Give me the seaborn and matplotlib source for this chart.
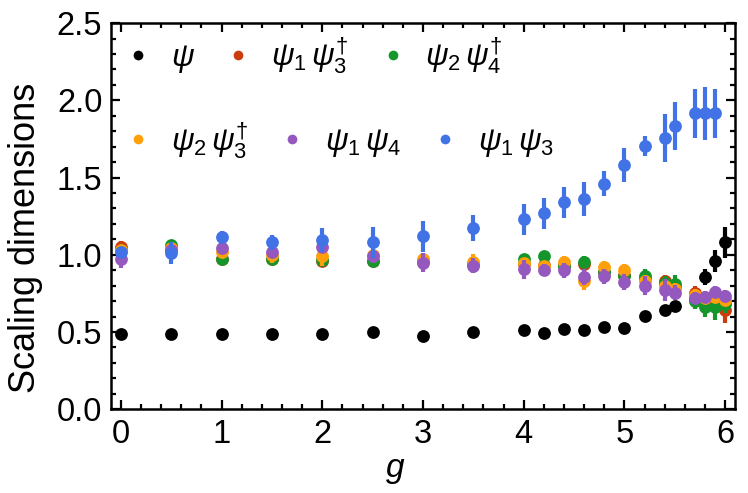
"""
Scaling dimensions of the fermion operators as a function of the coupling g.
Dots are the estimates and vertical bars the uncertainties.
"""

import matplotlib
matplotlib.use("Agg")
import matplotlib.pyplot as plt
from matplotlib.lines import Line2D
from matplotlib.ticker import MultipleLocator
import pandas as pd
import seaborn as sns

OUTPUT_FILE = "out.png"
DPI = 100

# coupling values (blue series stops one point earlier)
G = [0, 0.5, 1, 1.5, 2, 2.5, 3, 3.5, 4, 4.2, 4.4, 4.6, 4.8, 5.0,
     5.2, 5.4, 5.5, 5.7, 5.8, 5.9, 6.0]
G_BLUE = G[:-1]

PSI = [0.49, 0.49, 0.49, 0.49, 0.49, 0.50, 0.476, 0.502, 0.51, 0.495,
       0.52, 0.51, 0.53, 0.525, 0.605, 0.645, 0.67, 0.715, 0.855, 0.96, 1.08]
PSI_ERR = [0.01, 0.01, 0.01, 0.01, 0.01, 0.01, 0.01, 0.01, 0.01, 0.02,
           0.01, 0.02, 0.015, 0.01, 0.01, 0.01, 0.01, 0.02, 0.05, 0.07, 0.1]

PSI13D = [1.05, 1.04, 0.97, 0.97, 0.96, 0.96, 0.96, 0.94, 0.94, 0.935,
          0.93, 0.94, 0.89, 0.87, 0.85, 0.83, 0.79, 0.75, 0.70, 0.70, 0.645]
PSI13D_ERR = [0.04, 0.03, 0.03, 0.03, 0.03, 0.03, 0.03, 0.03, 0.03, 0.04,
              0.04, 0.05, 0.04, 0.04, 0.05, 0.04, 0.04, 0.05, 0.06, 0.07, 0.09]

PSI24D = [1.03, 1.065, 0.975, 0.975, 0.965, 0.96, 0.96, 0.94, 0.975, 0.99,
          0.93, 0.955, 0.89, 0.86, 0.86, 0.82, 0.81, 0.70, 0.66, 0.66, 0.68]
PSI24D_ERR = [0.03, 0.03, 0.04, 0.04, 0.03, 0.03, 0.03, 0.03, 0.03, 0.03,
              0.03, 0.04, 0.04, 0.04, 0.05, 0.04, 0.06, 0.05, 0.06, 0.08, 0.06]

PSI23D = [1.03, 1.045, 1.02, 1.0, 0.99, 1.0, 0.97, 0.955, 0.945, 0.925,
          0.955, 0.83, 0.92, 0.90, 0.83, 0.80, 0.78, 0.74, 0.72, 0.725, 0.71]
PSI23D_ERR = [0.03, 0.03, 0.03, 0.05, 0.06, 0.03, 0.04, 0.05, 0.03, 0.03,
              0.04, 0.06, 0.04, 0.04, 0.04, 0.04, 0.04, 0.04, 0.04, 0.04, 0.04]

PSI14 = [0.975, 1.03, 1.045, 1.02, 1.05, 0.99, 0.95, 0.93, 0.905, 0.90,
         0.90, 0.855, 0.86, 0.825, 0.80, 0.77, 0.755, 0.72, 0.725, 0.76, 0.735]
PSI14_ERR = [0.06, 0.03, 0.03, 0.03, 0.03, 0.04, 0.06, 0.05, 0.06, 0.04,
             0.05, 0.05, 0.05, 0.05, 0.06, 0.07, 0.05, 0.04, 0.04, 0.04, 0.04]

PSI13 = [1.02, 1.01, 1.115, 1.08, 1.095, 1.08, 1.12, 1.175, 1.23, 1.27,
         1.34, 1.36, 1.46, 1.58, 1.705, 1.755, 1.835, 1.915, 1.915, 1.915]
PSI13_ERR = [0.03, 0.07, 0.04, 0.05, 0.08, 0.1, 0.1, 0.085, 0.1, 0.1,
             0.1, 0.11, 0.08, 0.11, 0.065, 0.155, 0.155, 0.16, 0.17, 0.16]

LABELS = [r"$\psi$", r"$\psi_1\,\psi_3^{\dagger}$", r"$\psi_2\,\psi_4^{\dagger}$",
          r"$\psi_2\,\psi_3^{\dagger}$", r"$\psi_1\,\psi_4$", r"$\psi_1\,\psi_3$"]
COLORS = ["#000000", "#cc3d0e", "#14962b", "#ffa00a", "#9558be", "#4173e6"]


def build_frame() -> pd.DataFrame:
    series = [(G, PSI, PSI_ERR), (G, PSI13D, PSI13D_ERR),
              (G, PSI24D, PSI24D_ERR), (G, PSI23D, PSI23D_ERR),
              (G, PSI14, PSI14_ERR), (G_BLUE, PSI13, PSI13_ERR)]
    frames = []
    for label, (g, val, err) in zip(LABELS, series):
        frames.append(pd.DataFrame({"g": g, "dim": val, "err": err,
                                    "op": label}))
    return pd.concat(frames, ignore_index=True)


def style_axes(ax):
    ax.set_xlim(-0.1, 6.1)
    ax.set_ylim(0, 2.5)
    ax.xaxis.set_major_locator(MultipleLocator(1))
    ax.xaxis.set_minor_locator(MultipleLocator(0.2))
    ax.yaxis.set_major_locator(MultipleLocator(0.5))
    ax.yaxis.set_minor_locator(MultipleLocator(0.1))
    ax.tick_params(which="both", direction="in", top=True, right=True,
                   width=1.6, colors="black", labelcolor="black")
    ax.tick_params(which="major", length=6.5)
    ax.tick_params(which="minor", length=3.5)
    ax.tick_params(axis="x", which="major", labelsize=23.5, pad=7)
    ax.tick_params(axis="y", which="major", labelsize=23.5, pad=6)
    for spine in ax.spines.values():
        spine.set_linewidth(1.8)
        spine.set_color("black")
    ax.set_xlabel("$g$", fontsize=24, color="black")
    ax.xaxis.set_label_coords(0.456, -0.118)
    ax.set_ylabel("Scaling dimensions", fontsize=26, color="black")
    ax.yaxis.set_label_coords(-0.108, 0.445)


def add_legends(ax):
    def handles(idx):
        return [Line2D([], [], marker="o", linestyle="none", markersize=7,
                       markeredgewidth=0, color=COLORS[i]) for i in idx]

    kw = dict(ncol=3, frameon=False, fontsize=22.5, handlelength=0.5,
              handletextpad=0.8, columnspacing=1.15, borderpad=0,
              borderaxespad=0, loc="center left", labelcolor="black")
    top = ax.legend(handles(range(3)), LABELS[:3],
                    bbox_to_anchor=(0.031, 0.915), **kw)
    ax.add_artist(top)
    ax.legend(handles(range(3, 6)), LABELS[3:],
              bbox_to_anchor=(0.031, 0.697), **kw)


def main():
    sns.set_theme(style="ticks")
    plt.rcParams["font.family"] = ["Liberation Sans", "DejaVu Sans"]
    plt.rcParams["mathtext.fontset"] = "custom"
    plt.rcParams["mathtext.rm"] = "Liberation Sans"
    plt.rcParams["mathtext.it"] = "Liberation Sans:italic"
    plt.rcParams["text.color"] = "black"

    df = build_frame()
    fig, ax = plt.subplots(figsize=(748 / DPI, 493 / DPI), dpi=DPI)
    fig.subplots_adjust(left=0.148, right=0.983, bottom=0.170, top=0.953)

    for k, (label, color) in enumerate(zip(LABELS, COLORS)):
        sub = df[df["op"] == label]
        ax.errorbar(sub["g"], sub["dim"], yerr=sub["err"], fmt="none",
                    ecolor=color, elinewidth=3, capsize=0, zorder=2 + 2 * k)
        sns.scatterplot(data=sub, x="g", y="dim", color=color, s=85,
                        linewidth=0, ax=ax, zorder=3 + 2 * k, legend=False)

    style_axes(ax)
    add_legends(ax)
    fig.savefig(OUTPUT_FILE, dpi=DPI)
    plt.close(fig)


if __name__ == "__main__":
    main()
